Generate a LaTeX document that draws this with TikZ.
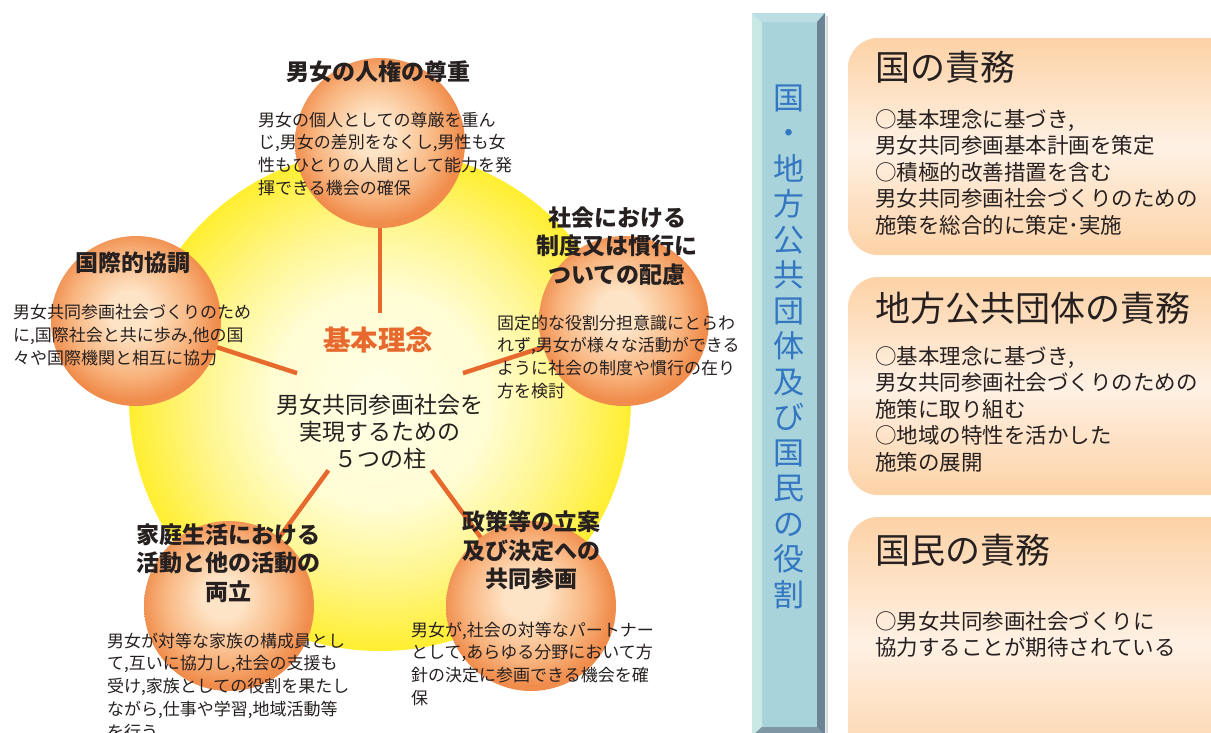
\documentclass[tikz,border=0pt]{standalone}
\usepackage{fontspec}
\setmainfont{Noto Sans CJK JP}
\definecolor{ink}{HTML}{262020}
\definecolor{spokeorange}{HTML}{E8692D}
\definecolor{ballin}{HTML}{FEE4C6}
\definecolor{ballmid}{HTML}{F8B47E}
\definecolor{ballout}{HTML}{F08C4C}
\definecolor{sunin}{HTML}{FFFFE8}
\definecolor{sunmid}{HTML}{FFFDD2}
\definecolor{sunring}{HTML}{FFF690}
\definecolor{sunout}{HTML}{FFEE30}
\definecolor{boxedge}{HTML}{FDD2A6}
\definecolor{boxmid}{HTML}{FEF1E4}
\definecolor{barmain}{HTML}{A9D3DB}
\definecolor{barleft}{HTML}{C9E7E3}
\definecolor{bartop}{HTML}{BCDDE3}
\definecolor{barright}{HTML}{6B8394}
\definecolor{barbottom}{HTML}{7E97A5}
\definecolor{barblue}{HTML}{3377C2}
\pgfdeclareradialshading{ballshade}{\pgfpoint{-2bp}{3bp}}{color(0bp)=(ballin); color(6bp)=(ballin); color(18bp)=(ballmid); color(25bp)=(ballout); color(50bp)=(ballout)}
\pgfdeclareradialshading{sunshade}{\pgfpoint{0bp}{0bp}}{color(0bp)=(sunin); color(11bp)=(sunmid); color(17.5bp)=(sunring); color(25bp)=(sunout); color(50bp)=(sunout)}
\pgfdeclareverticalshading{dutyshade}{100bp}{color(0bp)=(boxedge); color(25bp)=(boxedge); color(50bp)=(boxmid); color(75bp)=(boxedge); color(100bp)=(boxedge)}
\tikzset{
  sphere/.style={circle,minimum size=170pt,inner sep=0pt,outer sep=0pt,shading=ballshade},
  spoke/.style={spokeorange,line width=4.5pt},
  pillartitle/.style={font=\bfseries\fontsize{23pt}{28.5pt}\selectfont,align=center,inner sep=0pt,text=ink,anchor=north},
  pillarbody/.style={font=\fontsize{17pt}{22.8pt}\selectfont,align=left,inner sep=0pt,text=ink,anchor=north west},
  dutybox/.style={rounded corners=30pt,shading=dutyshade},
  dutytitle/.style={font=\fontsize{35pt}{40pt}\selectfont,inner sep=0pt,text=ink,anchor=north west},
  dutybody/.style={font=\fontsize{21.5pt}{26.5pt}\selectfont,align=left,inner sep=0pt,text=ink,anchor=north west}
}
\begin{document}
\begin{tikzpicture}[x=1pt,y=-1pt]
  \useasboundingbox (0,0) rectangle (1211,732);
  % yellow disk and the five pillars
  \shade[shading=sunshade] (380,400) circle[radius=251];
  \node[circle,minimum size=174pt,inner sep=0pt] (core) at (380,400) {};
  \node[sphere] (jinken) at (380,143) {};
  \node[sphere] (seido) at (624,321) {};
  \node[sphere] (seisaku) at (531,606) {};
  \node[sphere] (katei) at (229,606) {};
  \node[sphere] (kokusai) at (136,321) {};
  \foreach \s in {jinken,seido,seisaku,katei,kokusai}
    \draw[spoke] (core) -- (\s);
  \node[font=\bfseries\fontsize{27.5pt}{30pt}\selectfont,text=spokeorange,inner sep=0pt] (kihon) at (378,340) {基本理念};
  \node[font=\fontsize{23pt}{27pt}\selectfont,align=center,text=ink,inner sep=0pt,anchor=north] (hashira) at (380,393.5) {男女共同参画社会を\\実現するための\\５つの柱};
  \node[pillartitle] (jinkentitle) at (378,60.5) {男女の人権の尊重};
  \node[pillarbody] (jinkentext) at (258,111.5) {男女の個人としての尊厳を重ん\\じ,男女の差別をなくし,男性も女\\性もひとりの人間として能力を発\\揮できる機会の確保};
  \node[pillartitle] (seidotitle) at (617,206.5) {社会における\\制度又は慣行に\\ついての配慮};
  \node[pillarbody] (seidotext) at (497,314.5) {固定的な役割分担意識にとらわ\\れず,男女が様々な活動ができる\\ように社会の制度や慣行の在り\\方を検討};
  \node[pillartitle] (seisakutitle) at (531,510.5) {政策等の立案\\及び決定への\\共同参画};
  \node[pillarbody] (seisakutext) at (411,621.5) {男女が,社会の対等なパートナー\\として,あらゆる分野において方\\針の決定に参画できる機会を確\\保};
  \node[pillartitle] (kateititle) at (228,523.5) {家庭生活における\\活動と他の活動の\\両立};
  \node[pillarbody] (kateitext) at (107,632.5) {男女が対等な家族の構成員とし\\て,互いに協力し,社会の支援も\\受け,家族としての役割を果たし\\ながら,仕事や学習,地域活動等\\を行う};
  \node[pillartitle] (kokusaititle) at (133,251.5) {国際的協調};
  \node[pillarbody] (kokusaitext) at (13,304.5) {男女共同参画社会づくりのため\\に,国際社会と共に歩み,他の国\\々や国際機関と相互に協力};
  % blue bar
  \fill[barmain] (752,13) rectangle (825,736);
  \fill[barleft] (752,13) -- (762,22) -- (762,727) -- (752,736) -- cycle;
  \fill[bartop] (752,13) -- (825,13) -- (817,22) -- (762,22) -- cycle;
  \fill[barright] (825,13) -- (825,736) -- (817,727) -- (817,22) -- cycle;
  \fill[barbottom] (752,736) -- (762,727) -- (817,727) -- (825,736) -- cycle;
  \draw[gray!30,line width=1.5pt] (827,16) -- (827,736);
  \node[font=\fontsize{31pt}{35.5pt}\selectfont,text=barblue,align=center,inner sep=0pt,anchor=north] (yakuwari) at (788.5,84.5) {国\\・\\地\\方\\公\\共\\団\\体\\及\\び\\国\\民\\の\\役\\割};
  % duty boxes
  \shade[dutybox] (848,38) rectangle (1245,255);
  \shade[dutybox] (848,277) rectangle (1245,495);
  \shade[dutybox] (848,517) rectangle (1245,770);
  \node[dutytitle] (kunititle) at (875,51) {国の責務};
  \node[dutybody] (kunitext) at (875,109) {○基本理念に基づき,\\男女共同参画基本計画を策定\\○積極的改善措置を含む\\男女共同参画社会づくりのための\\施策を総合的に策定･実施};
  \node[dutytitle] (chihoutitle) at (875,291.5) {地方公共団体の責務};
  \node[dutybody] (chihoutext) at (875,346) {○基本理念に基づき,\\男女共同参画社会づくりのための\\施策に取り組む\\○地域の特性を活かした\\施策の展開};
  \node[dutytitle] (kokumintitle) at (875,534) {国民の責務};
  \node[dutybody] (kokumintext) at (875,611) {○男女共同参画社会づくりに\\協力することが期待されている};
\end{tikzpicture}
\end{document}
